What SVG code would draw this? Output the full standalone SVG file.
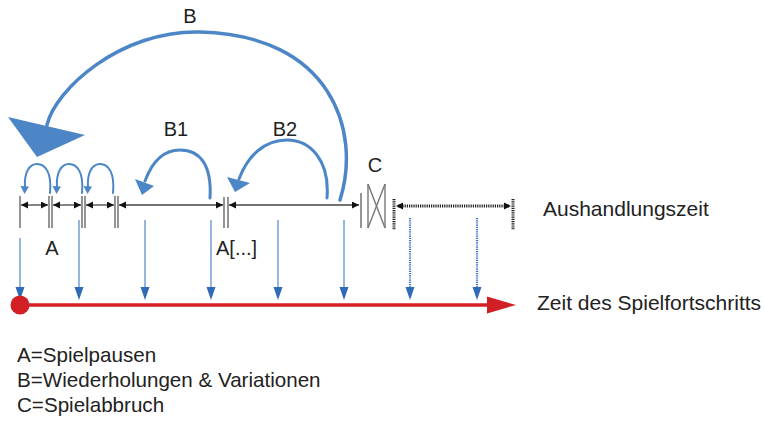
<svg xmlns="http://www.w3.org/2000/svg" width="764" height="421" viewBox="0 0 764 421">
<defs>
<style>
text{font-family:"Liberation Sans",Arial,sans-serif;font-size:20px;fill:#222}
.big{font-size:21px}
.leg{font-size:20.6px}
.arc{fill:none;stroke:#4c86c6;stroke-linecap:round}
.ah{fill:#4c86c6}
.tick{stroke:#7a7a7a;stroke-width:1.6}
.dim{stroke:#444;stroke-width:1.3;marker-start:url(#da);marker-end:url(#da)}
.down{stroke:#7ea3da;stroke-width:1.6}
.downd{stroke:#3f73c4;stroke-width:2.2;stroke-dasharray:1.2 1}
.dh{fill:#2f6bb8}
.dot{stroke:#222;stroke-width:3;stroke-dasharray:1.2 1;fill:none}
</style>
<marker id="da" markerUnits="userSpaceOnUse" markerWidth="8" markerHeight="8" refX="7" refY="3.5" orient="auto-start-reverse"><path d="M0,0 L7,3.5 L0,7 z" fill="#111"/></marker>
</defs>

<g id="connectors">
<!-- big B arc -->
<path class="arc" style="stroke-width:3.5" d="M340,200 C362,130 330,35 200,32 C120,30 55,90 47,125"/>
<polygon class="ah" points="8,117 85,135 37,157"/>
<!-- B1 -->
<path class="arc" style="stroke-width:3" d="M210,198 C212,165 200,150 180,150 C163,150 152,162 145,181"/>
<polygon class="ah" points="135,179 154,186 142,195"/>
<!-- B2 -->
<path class="arc" style="stroke-width:3" d="M327,198 C330,160 310,140 287,140 C265,140 248,155 239,179"/>
<polygon class="ah" points="227,177 250,183 235,192"/>
<!-- small A arcs -->
<path class="arc" style="stroke-width:2" d="M50,193 C52,172 45,164 37,164 C29,164 24,173 25,187"/>
<polygon class="ah" points="20.5,186 29,186.5 24.5,194"/>
<path class="arc" style="stroke-width:2" d="M82,193 C84,172 77,164 69,164 C61,164 56,173 57,187"/>
<polygon class="ah" points="52.5,186 61,186.5 56.5,194"/>
<path class="arc" style="stroke-width:2" d="M113,193 C115,172 108,164 100,164 C92,164 87,173 88,187"/>
<polygon class="ah" points="83.5,186 92,186.5 87.5,194"/>

<!-- dimension lines -->
<line class="dim" x1="21" y1="205" x2="48" y2="205"/>
<line class="dim" x1="53" y1="205" x2="81" y2="205"/>
<line class="dim" x1="86" y1="205" x2="114" y2="205"/>
<line class="dim" x1="119" y1="205" x2="223" y2="205"/>
<line class="dim" x1="229" y1="205" x2="359" y2="205"/>
<line class="dot" x1="398" y1="206" x2="509" y2="206"/>
<path d="M396,206 L403,202.5 L403,209.5 z" fill="#111"/>
<path d="M511,206 L504,202.5 L504,209.5 z" fill="#111"/>

<!-- down arrows -->
<line class="down" x1="20" y1="238" x2="20" y2="289"/>
<polygon class="dh" points="15.5,287 24.5,287 20,300"/>
<line class="down" x1="79" y1="220" x2="79" y2="289"/>
<polygon class="dh" points="74.5,287 83.5,287 79,300"/>
<line class="down" x1="145" y1="220" x2="145" y2="289"/>
<polygon class="dh" points="140.5,287 149.5,287 145,300"/>
<line class="down" x1="211" y1="220" x2="211" y2="289"/>
<polygon class="dh" points="206.5,287 215.5,287 211,300"/>
<line class="down" x1="278" y1="220" x2="278" y2="289"/>
<polygon class="dh" points="273.5,287 282.5,287 278,300"/>
<line class="down" x1="344" y1="220" x2="344" y2="289"/>
<polygon class="dh" points="339.5,287 348.5,287 344,300"/>
<line class="downd" x1="410" y1="218" x2="410" y2="289"/>
<polygon class="dh" points="405.5,287 414.5,287 410,300"/>
<line class="downd" x1="477" y1="218" x2="477" y2="289"/>
<polygon class="dh" points="472.5,287 481.5,287 477,300"/>

<!-- red timeline -->
<line x1="20" y1="305" x2="490" y2="305" stroke="#d21f26" stroke-width="3.5"/>
<polygon points="487,296.5 516,305 487,313.5" fill="#d21f26"/>
<circle cx="20" cy="305" r="9.5" fill="#d21f26"/>
</g>

<g id="ticks">
<line class="tick" x1="20" y1="196" x2="20" y2="228"/>
<line class="tick" x1="49" y1="196" x2="49" y2="228"/>
<line class="tick" x1="52" y1="196" x2="52" y2="228"/>
<line class="tick" x1="82" y1="196" x2="82" y2="228"/>
<line class="tick" x1="85" y1="196" x2="85" y2="228"/>
<line class="tick" x1="115" y1="196" x2="115" y2="228"/>
<line class="tick" x1="118" y1="196" x2="118" y2="228"/>
<line class="tick" x1="224" y1="197" x2="224" y2="228"/>
<line class="tick" x1="228" y1="197" x2="228" y2="228"/>
<line class="tick" x1="361" y1="193" x2="361" y2="228"/>
</g>

<g id="node-C">
<g stroke="#777" stroke-width="1.4" fill="none">
<line x1="368" y1="184" x2="368" y2="228"/>
<line x1="385" y1="184" x2="385" y2="228"/>
<line x1="368" y1="184" x2="385" y2="228"/>
<line x1="385" y1="184" x2="368" y2="228"/>
</g>
<text x="375" y="172" text-anchor="middle">C</text>
</g>

<g id="node-negotiation">
<line class="dot" x1="394" y1="199" x2="394" y2="230"/>
<line class="dot" x1="513" y1="199" x2="513" y2="230"/>
</g>

<g id="labels">
<text x="190" y="23" text-anchor="middle">B</text>
<text x="176" y="136" text-anchor="middle">B1</text>
<text x="285" y="136" text-anchor="middle">B2</text>
<text x="52" y="255" text-anchor="middle">A</text>
<text x="216" y="255">A[...]</text>
<text class="big" x="543" y="216">Aushandlungszeit</text>
<text class="big" x="537" y="310">Zeit des Spielfortschritts</text>
</g>

<g id="legend">
<text class="leg" x="17" y="362">A=Spielpausen</text>
<text class="leg" x="17" y="387">B=Wiederholungen &amp; Variationen</text>
<text class="leg" x="17" y="412">C=Spielabbruch</text>
</g>
</svg>
